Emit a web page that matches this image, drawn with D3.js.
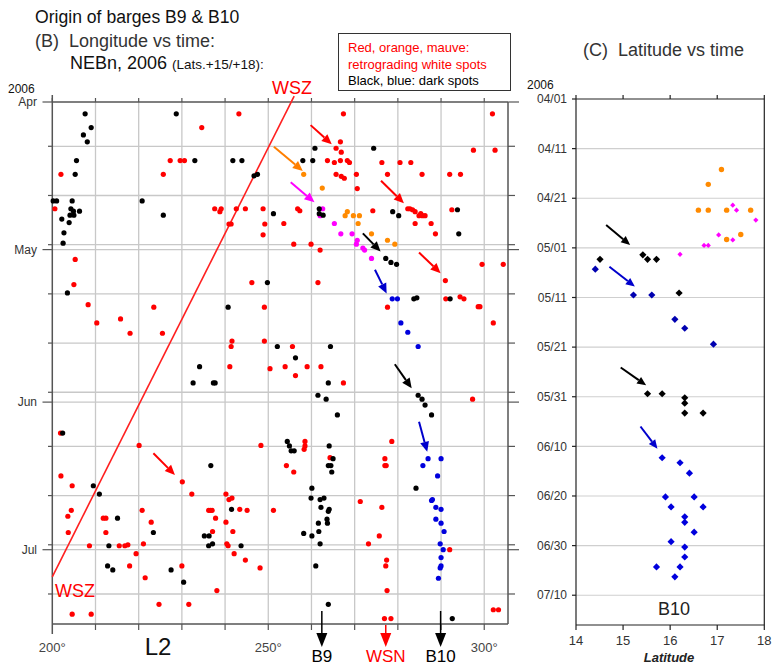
<!DOCTYPE html>
<html>
<head>
<meta charset="utf-8">
<script src="https://cdn.jsdelivr.net/npm/d3@7"></script>
<style>
  body { margin: 0; background: #fff; }
  svg { font-family: "Liberation Sans", Arial, sans-serif; }
</style>
</head>
<body>
<svg class="barges" width="777" height="666"></svg>
<script>
// ---- data ----
// longitude panel: [longitude (deg, L2), days after 2006/04/01]
const lonTicks = [200, 210, 220, 230, 240, 250, 260, 270, 280, 290, 300];
const lonLabels = [200, 250, 300];
const monthTicks = ["04/01", "05/01", "06/01", "07/01"];
const gridTicks = ["04/10", "04/20", "04/30", "05/10", "05/20", "05/30", "06/10", "06/20", "06/30", "07/10"];

const redSpots = [[243.2,2.4],[234.6,5.2],[202.0,14.7],[225.7,14.7],[227.3,11.9],[229.6,11.9],[230.6,11.9],[200.6,21.7],[237.6,21.7],[238.8,22.3],[239.1,21.7],[242.6,21.7],[244.7,21.7],[248.8,21.7],[240.9,24.8],[241.4,24.8],[249.2,24.8],[248.8,27.0],[205.3,32.0],
  [267.4,2.4],[301.9,2.4],[265.7,9.4],[266.7,8.1],[266.9,10.2],[263.7,11.9],[265.3,12.3],[266.7,11.9],[268.3,11.9],[268.8,12.3],[265.7,14.7],[266.9,15.1],[267.6,15.5],[270.4,14.7],[270.6,17.6],[276.3,12.3],[277.6,14.7],[280.5,12.3],[283.0,12.3],[285.6,14.7],[292.0,14.7],[294.5,14.7],[297.5,9.8],[302.5,9.8],[256.8,21.7],[257.3,22.1],[253.6,24.7],[255.9,28.9],[259.9,28.9],[262.0,30.1],[274.2,22.1],[282.3,21.7],[282.8,21.7],[283.4,21.9],[284.0,22.3],[284.9,23.1],[285.3,22.7],[285.7,23.1],[286.3,23.1],[284.0,24.7],[287.7,24.7],[288.7,26.8],[292.5,21.9],[299.5,33.0],[304.4,33.0],
  [205.0,37.1],[208.3,41.2],[210.3,44.9],[215.8,44.1],[218.0,47.0],[223.5,41.7],[225.5,47.0],[246.2,36.7],[249.1,41.7],[241.6,48.6],[241.4,49.7],[249.1,48.6],[241.1,53.8],[250.4,54.2],[201.9,67.3],[220.1,69.8],[248.3,69.8],
  [261.5,36.7],[291.0,36.3],[277.6,41.7],[291.1,40.0],[294.4,39.6],[295.3,40.0],[298.6,41.6],[299.0,41.6],[302.1,44.9],[255.6,49.7],[253.9,53.8],[256.3,55.6],[259.0,53.8],[262.2,53.8],[267.4,57.1],[297.3,60.4],[278.6,69.0],[258.5,69.0],[258.5,69.9],[258.3,70.6],[264.3,72.3],[277.0,72.5],
  [202.0,76.0],[204.6,78.0],[230.1,77.2],[232.3,79.7],[240.2,79.7],[240.9,80.8],[241.6,80.5],[204.4,83.0],[203.6,84.2],[203.7,87.5],[208.6,90.2],[211.8,84.6],[212.4,84.6],[212.4,87.5],[215.5,90.2],[216.8,90.2],[217.5,90.0],[217.9,94.3],[219.4,91.8],[220.8,83.0],[222.9,85.4],[221.1,89.8],[221.5,96.7],[224.7,102.1],[230.0,94.3],[231.6,102.1],[204.6,104.1],[209.0,104.1],[236.2,83.0],[236.6,83.0],[237.0,83.0],[237.8,84.6],[240.2,85.4],[237.1,87.3],[241.8,87.3],[240.4,89.8],[240.7,90.2],[242.1,91.8],[243.4,82.8],[245.1,83.0],[244.7,93.1],[248.1,94.7],[251.2,83.0],[238.1,99.3],
  [254.2,73.9],[255.9,75.2],[277.0,73.9],[277.3,73.9],[271.3,81.2],[276.3,82.4],[275.7,88.2],[273.2,89.8],[292.0,91.0],[277.4,93.1],[277.2,94.3],[277.5,99.3],[276.9,105.0],[278.4,105.0],[302.1,103.2],[303.3,103.2]];
const orangeSpots = [[258.2,14.7],[262.5,17.5],[267.8,23.1],[268.3,22.3],[269.7,23.1],[271.1,23.1],[270.8,24.7],[273.9,26.8],[277.6,28.1],[279.3,28.9]];
const mauveSpots = [[262.6,21.7],[262.0,23.1],[265.3,24.7],[266.8,26.8],[269.4,26.8],[270.6,28.1],[270.4,28.9],[271.9,29.7],[272.3,30.1],[273.9,31.8]];
const blackSpots = [[207.6,2.4],[228.7,2.4],[209.0,5.2],[207.2,6.7],[208.1,8.1],[205.6,11.9],[205.3,14.7],[233.0,11.9],[241.8,11.9],[243.9,11.9],[246.7,15.0],[247.5,14.7],[200.2,20.1],[201.0,20.1],[204.6,20.1],[220.8,20.1],[204.3,21.7],[204.9,22.2],[206.3,22.2],[204.1,23.0],[205.0,23.0],[225.7,23.0],[202.2,23.8],[203.9,24.5],[202.7,26.6],[202.5,28.7],[251.2,22.7],
  [260.8,9.4],[274.4,9.4],[258.0,11.9],[260.3,11.9],[261.8,21.7],[261.8,22.7],[262.7,23.0],[278.8,22.3],[280.2,23.1],[293.8,21.9],[294.1,26.8],[277.2,31.8],[278.4,32.6],[279.7,33.0],
  [203.5,38.8],[249.8,36.7],[240.7,41.7],[252.1,49.7],[234.1,53.8],[232.6,57.1],[237.3,57.1],[237.7,57.1],[202.4,67.3],
  [283.7,40.0],[284.4,39.8],[292.1,40.0],[264.4,49.7],[256.3,52.0],[263.9,57.1],[261.5,59.6],[263.4,60.4],[266.0,63.6],[284.7,59.6],[285.6,60.4],[286.3,61.6],[287.8,63.6],[254.4,69.0],[254.9,69.9],[255.3,70.9],[256.0,70.9],[264.1,69.9],[265.0,72.5],
  [236.7,73.9],[209.5,78.0],[210.9,79.7],[215.1,84.6],[213.1,90.2],[212.8,94.3],[214.0,95.1],[223.4,87.5],[241.5,82.8],[235.2,88.2],[236.3,88.2],[236.2,90.2],[237.1,89.8],[243.7,90.2],[227.5,95.1],[230.4,97.6],
  [263.9,73.9],[264.5,73.9],[264.7,75.2],[260.1,78.5],[259.9,80.5],[262.0,80.8],[262.9,80.5],[262.2,82.4],[264.1,82.8],[263.9,83.2],[263.6,84.8],[263.7,85.6],[261.6,85.6],[261.7,87.3],[258.2,87.7],[260.1,88.2],[262.0,89.8],[261.0,94.3],[263.9,102.1],[284.2,78.5],[292.6,105.0]];
const blueSpots = [[278.7,40.0],[279.9,40.0],[280.7,44.9],[282.3,46.8],[284.7,49.7],[287.0,72.5],[290.0,72.5],[285.8,73.9],[289.2,76.0],[288.0,80.8],[287.8,81.0],[288.8,82.4],[290.0,82.8],[288.8,84.8],[290.0,85.6],[290.7,87.3],[289.8,89.8],[290.5,91.0],[290.0,92.6],[290.0,94.3],[289.8,94.7],[289.4,96.8]];
const wszLine = [[200, 96.5], [256.0, -1.2]];
// annotation arrows [lon1, day1, lon2, day2, colour]
const lonArrows = [[259.8,4.7,264.7,8.6,"#ff0000"],[251.3,9.1,258.0,14.0,"#ff7f00"],[255.2,16.3,260.7,20.4,"#ff00ff"],[276.1,16.0,281.4,20.6,"#ff0000"],[271.9,26.7,276.0,30.4,"#000000"],[284.9,30.6,289.9,34.8,"#ff0000"],[274.7,34.1,277.4,38.9,"#0000cc"],[279.3,53.3,283.2,58.2,"#000000"],[284.9,65.0,286.8,71.1,"#0000cc"],[223.4,71.4,228.4,75.8,"#ff0000"]];
const barges = [["B9", 262.4, "#000"], ["WSN", 277.2, "#ff0000"], ["B10", 289.9, "#000"]];

// latitude panel: [latitude (deg), days after 2006/04/01]
const latTicks = [14, 15, 16, 17, 18];
const latDateTicks = ["04/01", "04/11", "04/21", "05/01", "05/11", "05/21", "05/31", "06/10", "06/20", "06/30", "07/10"];
const latOrange = [[17.09,14.2],[16.81,17.2],[16.60,22.4],[16.81,22.4],[17.20,22.4],[17.71,22.4],[17.50,27.3],[17.20,28.3]];
const latMauve = [[17.33,21.4],[17.41,22.4],[17.82,24.4],[17.03,27.4],[17.33,28.4],[16.72,29.5],[16.81,29.5],[16.21,31.3]];
const latBlack = [[14.51,32.3],[15.42,31.4],[15.52,32.3],[15.71,32.3],[16.19,39.1],[15.52,59.4],[15.83,59.4],[16.31,60.2],[16.31,61.3],[16.31,63.3],[16.70,63.3]];
const latBlue = [[14.41,34.3],[15.22,39.5],[15.61,39.5],[16.10,44.4],[16.31,46.2],[16.92,49.4],[15.83,72.3],[16.21,73.3],[16.41,75.4],[15.90,80.2],[16.51,80.2],[16.02,82.2],[16.70,82.2],[16.31,84.2],[16.31,85.3],[16.51,87.3],[16.02,89.2],[16.31,90.3],[16.31,92.3],[15.71,94.3],[16.21,94.3],[16.10,96.3]];
const latArrows = [[14.64,25.4,15.15,29.4,"#000000"],[14.71,33.8,15.25,37.8,"#0000cc"],[14.95,54.1,15.49,57.7,"#000000"],[15.37,66.0,15.73,70.5,"#0000cc"]];

(function bargesChart() {
    var svg = d3.select("svg.barges");
    var parseDay = d3.utcParse("%Y/%m/%d");
    var t0 = parseDay("2006/04/01");
    function md(s) { return parseDay("2006/" + s); }
    function dayDate(d) { return new Date(t0.getTime() + d * 864e5); }

    var axisCol = "#555", gridCol = "#c8c8c8";

    // ---------- panel B: longitude vs time ----------
    var x = d3.scaleLinear().domain([200, 305.5]).range([52.3, 508]);
    var y = d3.scaleUtc().domain([t0, dayDate(106.1)]).range([102, 624]);
    var g = svg.append("g");

    // grid
    g.selectAll(".vgrid").data(lonTicks.slice(1)).enter().append("line")
        .attr("x1", d => x(d)).attr("x2", d => x(d))
        .attr("y1", y.range()[0]).attr("y2", y.range()[1])
        .attr("stroke", gridCol).attr("stroke-width", 1.3);
    g.selectAll(".hgrid").data(gridTicks.concat(monthTicks.slice(1))).enter().append("line")
        .attr("x1", x.range()[0]).attr("x2", x.range()[1])
        .attr("y1", d => y(md(d))).attr("y2", d => y(md(d)))
        .attr("stroke", gridCol).attr("stroke-width", 1.3);

    // frame
    g.append("line").attr("x1", x(200)).attr("x2", x(200)).attr("y1", 95).attr("y2", 634)
        .attr("stroke", axisCol).attr("stroke-width", 1.5);
    g.append("line").attr("x1", x.range()[0]).attr("x2", x.range()[1]).attr("y1", 102).attr("y2", 102)
        .attr("stroke", axisCol).attr("stroke-width", 1.5);
    g.append("line").attr("x1", x.range()[0]).attr("x2", x.range()[1]).attr("y1", 624).attr("y2", 624)
        .attr("stroke", axisCol).attr("stroke-width", 1.5);
    g.append("line").attr("x1", x.range()[1]).attr("x2", x.range()[1]).attr("y1", 102).attr("y2", 624)
        .attr("stroke", axisCol).attr("stroke-width", 1.5);

    // ticks
    g.selectAll(".ttick").data(lonTicks).enter().append("line")
        .attr("x1", d => x(d)).attr("x2", d => x(d)).attr("y1", 98).attr("y2", 102)
        .attr("stroke", axisCol).attr("stroke-width", 1.2);
    g.selectAll(".btick").data(lonTicks.slice(1)).enter().append("line")
        .attr("x1", d => x(d)).attr("x2", d => x(d)).attr("y1", 624).attr("y2", 630)
        .attr("stroke", axisCol).attr("stroke-width", 1.2);
    g.selectAll(".lminor").data(gridTicks).enter().append("line")
        .attr("x1", 48).attr("x2", x(200)).attr("y1", d => y(md(d))).attr("y2", d => y(md(d)))
        .attr("stroke", axisCol).attr("stroke-width", 1.2);
    g.selectAll(".lmajor").data(monthTicks).enter().append("line")
        .attr("x1", 42.5).attr("x2", x(200)).attr("y1", d => y(md(d))).attr("y2", d => y(md(d)))
        .attr("stroke", axisCol).attr("stroke-width", 1.2);
    g.selectAll(".rminor").data(gridTicks).enter().append("line")
        .attr("x1", x.range()[1]).attr("x2", x.range()[1] + 7).attr("y1", d => y(md(d))).attr("y2", d => y(md(d)))
        .attr("stroke", axisCol).attr("stroke-width", 1.2);
    g.selectAll(".rmajor").data(monthTicks).enter().append("line")
        .attr("x1", x.range()[1]).attr("x2", x.range()[1] + 11).attr("y1", d => y(md(d))).attr("y2", d => y(md(d)))
        .attr("stroke", axisCol).attr("stroke-width", 1.2);

    // tick labels
    g.selectAll(".mlab").data(monthTicks).enter().append("text")
        .attr("x", 37).attr("y", d => y(md(d))).attr("dy", "0.35em")
        .attr("text-anchor", "end").attr("font-size", 12).attr("fill", "#333")
        .text(d => d3.utcFormat("%b")(md(d)));
    g.selectAll(".xlab").data(lonLabels).enter().append("text")
        .attr("x", d => x(d)).attr("y", 652).attr("text-anchor", "middle")
        .attr("font-size", 13).attr("fill", "#444").text(d => d + "°");
    g.append("text").attr("x", 8).attr("y", 93).attr("font-size", 12).attr("fill", "#111").text("2006");
    g.append("text").attr("x", 158).attr("y", 655).attr("text-anchor", "middle")
        .attr("font-size", 24).attr("fill", "#111").text("L2");

    // WSZ drift line
    g.append("path").datum(wszLine)
        .attr("fill", "none").attr("stroke", "#ff2020").attr("stroke-width", 1.6)
        .attr("d", d3.line().x(d => x(d[0])).y(d => y(dayDate(d[1]))));
    g.append("text").attr("x", 272).attr("y", 94).attr("font-size", 18).attr("fill", "#ff0000").text("WSZ");
    g.append("text").attr("x", 55).attr("y", 597).attr("font-size", 18).attr("fill", "#ff0000").text("WSZ");

    function dots(data, colour) {
        g.append("g").selectAll("circle").data(data).enter().append("circle")
            .attr("cx", d => x(d[0])).attr("cy", d => y(dayDate(d[1])))
            .attr("r", 2.6).attr("fill", colour);
    }
    dots(redSpots, "#ff0000");
    dots(orangeSpots, "#ff8a00");
    dots(mauveSpots, "#ff00ff");
    dots(blackSpots, "#000000");
    dots(blueSpots, "#0000dd");

    function arrow(layer, x1, y1, x2, y2, colour, len, wid, sw) {
        var a = Math.atan2(y2 - y1, x2 - x1);
        var bx = x2 - len * Math.cos(a), by = y2 - len * Math.sin(a);
        layer.append("line").attr("x1", x1).attr("y1", y1).attr("x2", bx).attr("y2", by)
            .attr("stroke", colour).attr("stroke-width", sw);
        var px = -Math.sin(a) * wid / 2, py = Math.cos(a) * wid / 2;
        layer.append("path")
            .attr("d", "M" + x2 + "," + y2 + "L" + (bx + px) + "," + (by + py) + "L" + (bx - px) + "," + (by - py) + "Z")
            .attr("fill", colour);
    }
    lonArrows.forEach(function(d) {
        arrow(g, x(d[0]), y(dayDate(d[1])), x(d[2]), y(dayDate(d[3])), d[4], 10, 9, 2);
    });
    barges.forEach(function(b) {
        var top = b[0] === "WSN" ? 625 : 611;
        arrow(g, x(b[1]), top, x(b[1]), 647, b[2], 14, 11, 1.5);
        g.append("text").attr("x", x(b[1])).attr("y", 662).attr("text-anchor", "middle")
            .attr("font-size", 17).attr("fill", b[2]).text(b[0]);
    });

    // titles and legend
    svg.append("text").attr("x", 35).attr("y", 23).attr("font-size", 17.6).attr("fill", "#111")
        .text("Origin of barges B9 & B10");
    svg.append("text").attr("x", 35).attr("y", 47).attr("font-size", 18).attr("fill", "#333")
        .style("white-space", "pre").text("(B)  Longitude vs time:");
    var neb = svg.append("text").attr("x", 70).attr("y", 69).attr("font-size", 18).attr("fill", "#111");
    neb.append("tspan").text("NEBn, 2006 ");
    neb.append("tspan").attr("font-size", 13.5).text("(Lats.+15/+18):");
    svg.append("rect").attr("x", 338.5).attr("y", 33.5).attr("width", 172).attr("height", 57)
        .attr("fill", "#fff").attr("stroke", "#333").attr("stroke-width", 1);
    svg.append("text").attr("x", 348).attr("y", 52).attr("font-size", 13).attr("fill", "#ff0000").text("Red, orange, mauve:");
    svg.append("text").attr("x", 348).attr("y", 69).attr("font-size", 13).attr("fill", "#ff0000").text("retrograding white spots");
    svg.append("text").attr("x", 348).attr("y", 85).attr("font-size", 13).attr("fill", "#000").text("Black, blue: dark spots");

    // ---------- panel C: latitude vs time ----------
    var xl = d3.scaleLinear().domain([14, 18]).range([576, 764.3]);
    var yl = d3.scaleUtc().domain([t0, dayDate(106)]).range([99, 625]);
    var h = svg.append("g");

    h.selectAll(".lgrid").data(latDateTicks.slice(1)).enter().append("line")
        .attr("x1", xl.range()[0]).attr("x2", xl.range()[1])
        .attr("y1", d => yl(md(d))).attr("y2", d => yl(md(d)))
        .attr("stroke", "#cfcfcf").attr("stroke-width", 1.2);
    [[576, 99, 576, 625], [576, 99, 764.3, 99], [764.3, 99, 764.3, 625], [576, 625, 764.3, 625]].forEach(function(l) {
        h.append("line").attr("x1", l[0]).attr("y1", l[1]).attr("x2", l[2]).attr("y2", l[3])
            .attr("stroke", "#222").attr("stroke-width", 1.2);
    });
    h.selectAll(".ltick").data(latDateTicks).enter().append("line")
        .attr("x1", 572).attr("x2", 576).attr("y1", d => yl(md(d))).attr("y2", d => yl(md(d)))
        .attr("stroke", "#222").attr("stroke-width", 1.2);
    h.selectAll(".ttick").data(latTicks).enter().append("line")
        .attr("x1", d => xl(d)).attr("x2", d => xl(d)).attr("y1", 95).attr("y2", 99)
        .attr("stroke", "#222").attr("stroke-width", 1.2);
    h.selectAll(".btick").data(latTicks).enter().append("line")
        .attr("x1", d => xl(d)).attr("x2", d => xl(d)).attr("y1", 625).attr("y2", 630)
        .attr("stroke", "#222").attr("stroke-width", 1.2);
    h.selectAll(".dlab").data(latDateTicks).enter().append("text")
        .attr("x", 567).attr("y", d => yl(md(d))).attr("dy", "0.35em").attr("text-anchor", "end")
        .attr("font-size", 12).attr("fill", "#333").text(d => d);
    h.selectAll(".latlab").data(latTicks).enter().append("text")
        .attr("x", d => xl(d)).attr("y", 645).attr("text-anchor", "middle")
        .attr("font-size", 13).attr("fill", "#333").text(d => d);
    h.append("text").attr("x", 669).attr("y", 662).attr("text-anchor", "middle")
        .attr("font-size", 13).attr("font-weight", "bold").attr("font-style", "italic").attr("fill", "#222")
        .text("Latitude");
    h.append("text").attr("x", 527).attr("y", 89).attr("font-size", 12).attr("fill", "#111").text("2006");
    h.append("text").attr("x", 583).attr("y", 56).attr("font-size", 18).attr("fill", "#333")
        .style("white-space", "pre").text("(C)  Latitude vs time");
    h.append("text").attr("x", 674).attr("y", 615).attr("text-anchor", "middle")
        .attr("font-size", 18).attr("fill", "#222").text("B10");

    function diamond(r) { return "M0," + (-r) + "L" + r + ",0L0," + r + "L" + (-r) + ",0Z"; }
    h.append("g").selectAll("circle").data(latOrange).enter().append("circle")
        .attr("cx", d => xl(d[0])).attr("cy", d => yl(dayDate(d[1]))).attr("r", 2.7).attr("fill", "#ff8a00");
    h.append("g").selectAll("path").data(latMauve).enter().append("path")
        .attr("transform", d => "translate(" + xl(d[0]) + "," + yl(dayDate(d[1])) + ")")
        .attr("d", diamond(2.6)).attr("fill", "#ff00ff");
    h.append("g").selectAll("path").data(latBlack).enter().append("path")
        .attr("transform", d => "translate(" + xl(d[0]) + "," + yl(dayDate(d[1])) + ")")
        .attr("d", diamond(3.6)).attr("fill", "#000");
    h.append("g").selectAll("path").data(latBlue).enter().append("path")
        .attr("transform", d => "translate(" + xl(d[0]) + "," + yl(dayDate(d[1])) + ")")
        .attr("d", diamond(3.6)).attr("fill", (d, i) => i < 6 ? "#0000b0" : "#0000dd");
    latArrows.forEach(function(d) {
        arrow(h, xl(d[0]), yl(dayDate(d[1])), xl(d[2]), yl(dayDate(d[3])), d[4], 9, 8, 2);
    });
})();
</script>
</body>
</html>
